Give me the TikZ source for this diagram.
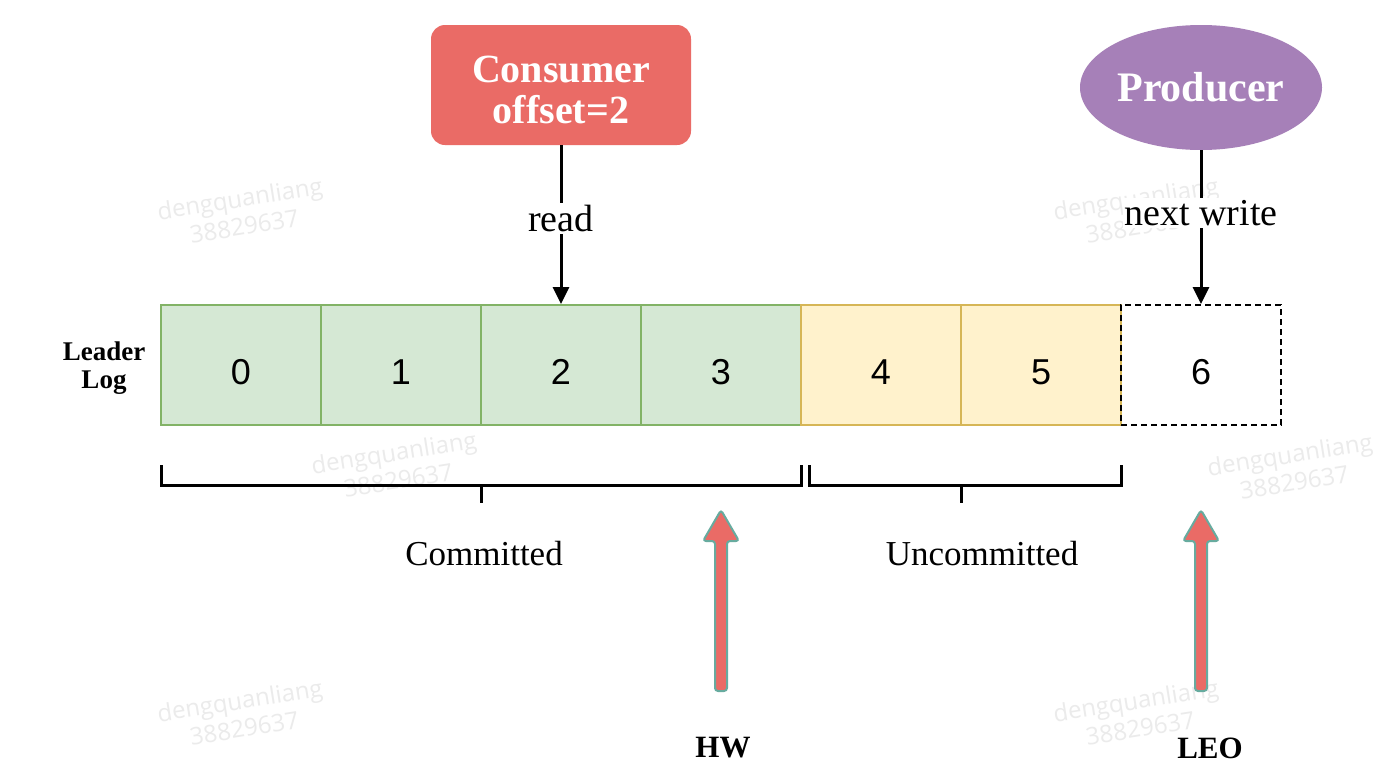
\documentclass[tikz,border=0pt]{standalone}
\usepackage{fontspec}
\setmainfont{Liberation Serif}
\newfontfamily\numfont{Liberation Sans}
\newfontfamily\wmfont{Open Sans}
\usetikzlibrary{arrows.meta,shapes.geometric}
\definecolor{redf}{HTML}{EA6B66}
\definecolor{purf}{HTML}{A680B8}
\definecolor{grf}{HTML}{D5E8D4}
\definecolor{grd}{HTML}{82B366}
\definecolor{yef}{HTML}{FFF2CC}
\definecolor{yed}{HTML}{D6B656}
\definecolor{arrbd}{HTML}{67AB9F}
\definecolor{wmcol}{HTML}{EBEBEB}
\begin{document}
\begin{tikzpicture}[x=1pt,y=-1pt,
  cell/.style={draw, line width=2pt, minimum width=160pt, minimum height=120pt, inner sep=0pt,
    text height=38pt, text depth=0pt, font=\numfont\fontsize{36}{40}\selectfont},
  conn/.style={line width=3pt, -{Triangle[length=17pt,width=16pt]}},
  lbl/.style={fill=white, inner sep=2pt, font=\fontsize{38}{42}\selectfont},
  brk/.style={line width=3pt},
  uparr/.style={fill=redf, draw=arrbd, line width=2pt, rounded corners=3pt},
  blbl/.style={font=\bfseries\fontsize{31}{34}\selectfont},
  txt/.style={font=\fontsize{35}{40}\selectfont},
  wm/.style={font=\wmfont\fontsize{24}{28}\selectfont, text=wmcol, align=center, rotate=9}
]
\useasboundingbox (0,0) rectangle (1374,782);
\fill[white] (0,0) rectangle (1374,782);

% watermarks
\node[wm] (wm1) at (242,212) {dengquanliang\\38829637};
\node[wm] (wm2) at (1138,212) {dengquanliang\\38829637};
\node[wm] (wm3) at (396,466) {dengquanliang\\38829637};
\node[wm] (wm4) at (1292,468) {dengquanliang\\38829637};
\node[wm] (wm5) at (242,714) {dengquanliang\\38829637};
\node[wm] (wm6) at (1138,714) {dengquanliang\\38829637};

% top nodes
\node[fill=redf, rounded corners=14pt, minimum width=260pt, minimum height=120pt, inner sep=0pt] (cons) at (561,85) {};
\node[text=white, align=center, font=\bfseries\fontsize{40}{41}\selectfont] (consT) at (561,90) {Consumer\\offset=2};
\node[ellipse, fill=purf, minimum width=242pt, minimum height=125pt, inner sep=0pt, text=white,
  font=\bfseries\fontsize{42}{44}\selectfont] (prod) at (1201,87.5) {Producer};

% cells
\node[cell, fill=grf, draw=grd] (c0) at (241,365) {0};
\node[cell, fill=grf, draw=grd] (c1) at (401,365) {1};
\node[cell, fill=grf, draw=grd] (c2) at (561,365) {2};
\node[cell, fill=grf, draw=grd] (c3) at (721,365) {3};
\node[cell, fill=yef, draw=yed] (c4) at (881,365) {4};
\node[cell, fill=yef, draw=yed] (c5) at (1041,365) {5};
\node[cell, draw=black, dash pattern=on 6pt off 4pt] (c6) at (1201,365) {6};

\node[align=center, font=\bfseries\fontsize{27}{28}\selectfont] (ll) at (104,368) {Leader\\Log};

% connectors
\draw[conn] (cons.south) -- node[lbl, pos=0.46] {read} (c2.north);
\draw[conn] (prod.south) -- node[lbl, pos=0.41] {next write} (c6.north);

% brackets
\draw[brk] (161,465) -- (161,485) -- (801,485) -- (801,465);
\draw[brk] (481,485) -- (481,503);
\draw[brk] (809,465) -- (809,485) -- (1121,485) -- (1121,465);
\draw[brk] (961,485) -- (961,503);

\node[txt] (com) at (484,554) {Committed};
\node[txt] (unc) at (982,554) {Uncommitted};

% HW and LEO arrows
\draw[uparr] (715,691) -- (715,541) -- (703,541) -- (721,510) -- (739,541) -- (727,541) -- (727,691) -- cycle;
\draw[uparr] (1195,691) -- (1195,541) -- (1183,541) -- (1201,510) -- (1219,541) -- (1207,541) -- (1207,691) -- cycle;

\node[blbl] (hw) at (723,748) {HW};
\node[blbl] (leo) at (1210,748) {LEO};
\end{tikzpicture}
\end{document}
